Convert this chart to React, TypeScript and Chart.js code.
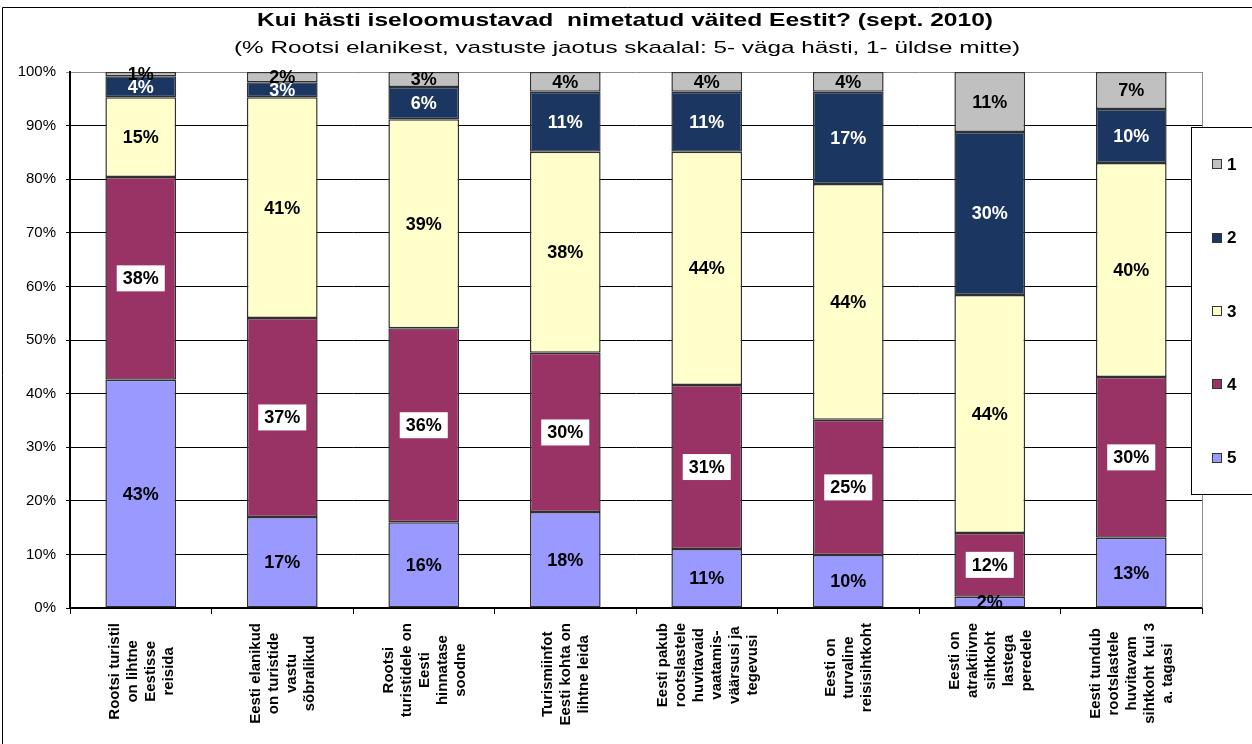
import React, { useEffect, useRef } from 'react';
import { Chart, registerables } from 'chart.js';

Chart.register(...registerables);

const FONT = '"Liberation Sans", Arial, Helvetica, sans-serif';

const titleText = 'Kui hästi iseloomustavad  nimetatud väited Eestit? (sept. 2010)';
const subtitleText = '(% Rootsi elanikest, vastuste jaotus skaalal: 5- väga hästi, 1- üldse mitte)';

const categories: string[][] = [
  ['Rootsi turistil', 'on lihtne', 'Eestisse', 'reisida'],
  ['Eesti elanikud', 'on turistide', 'vastu', 'sõbralikud'],
  ['Rootsi', 'turistidele on', 'Eesti', 'hinnatase', 'soodne'],
  ['Turismiinfot', 'Eesti kohta on', 'lihtne leida'],
  ['Eesti pakub', 'rootslastele', 'huvitavaid', 'vaatamis-', 'väärsusi ja', 'tegevusi'],
  ['Eesti on', 'turvaline', 'reisisihtkoht'],
  ['Eesti on', 'atraktiivne', 'sihtkoht', 'lastega', 'peredele'],
  ['Eesti tundub', 'rootslastele', 'huvitavam', 'sihtkoht  kui 3', 'a. tagasi'],
];

// stacked from bottom (5) to top (1)
const seriesNames = ['5', '4', '3', '2', '1'];
const values5 = [42.6, 17.0, 16.0, 17.9, 11.0, 9.9, 2.1, 13.1];
const values4 = [37.8, 37.1, 36.2, 29.7, 30.6, 25.2, 11.9, 30.0];
const values3 = [14.9, 41.2, 39.0, 37.5, 43.5, 44.0, 44.4, 39.9];
const values2 = [3.9, 2.8, 6.0, 11.2, 11.2, 17.2, 30.4, 10.1];
const values1 = [0.8, 1.9, 2.8, 3.7, 3.7, 3.7, 11.2, 6.9];
const seriesValues = [values5, values4, values3, values2, values1];

const seriesColors = ['#9999FF', '#993366', '#FFFFCC', '#1B3761', '#C0C0C0'];
const labelColors = ['#000000', '#000000', '#000000', '#FFFFFF', '#000000'];
const legendOrder = ['1', '2', '3', '4', '5'];

const yMin = 0;
const yMax = 100;
const yStep = 10;

function drawStretched(ctx: CanvasRenderingContext2D, text: string, font: string, cx: number, baseline: number, target: number) {
  ctx.save();
  ctx.font = font;
  const w = ctx.measureText(text).width;
  const sx = target / w;
  ctx.textAlign = 'center';
  ctx.textBaseline = 'alphabetic';
  ctx.fillStyle = '#000';
  ctx.translate(cx, baseline);
  ctx.scale(sx, 1);
  ctx.fillText(text, 0, 0);
  ctx.restore();
}

const decorPlugin = {
  id: 'decor',
  beforeDraw(chart: any) {
    const ctx: CanvasRenderingContext2D = chart.ctx;
    ctx.save();
    ctx.fillStyle = '#fff';
    ctx.fillRect(0, 0, chart.width, chart.height);
    ctx.strokeStyle = '#000';
    ctx.lineWidth = 1;
    ctx.beginPath();
    ctx.moveTo(2.5, chart.height);
    ctx.lineTo(2.5, 7.5);
    ctx.lineTo(chart.width, 7.5);
    ctx.stroke();
    drawStretched(ctx, titleText, `bold 19px ${FONT}`, 625, 26, 736);
    drawStretched(ctx, subtitleText, `17px ${FONT}`, 627, 53, 786);
    ctx.restore();
  },
  afterDatasetsDraw(chart: any) {
    const ctx: CanvasRenderingContext2D = chart.ctx;
    ctx.save();
    ctx.font = `bold 18px ${FONT}`;
    ctx.textAlign = 'center';
    ctx.textBaseline = 'middle';
    chart.data.datasets.forEach((ds: any, di: number) => {
      const meta = chart.getDatasetMeta(di);
      meta.data.forEach((bar: any, i: number) => {
        const v = ds.data[i] as number;
        const txt = Math.round(v) + '%';
        const x = bar.x;
        const y = (bar.y + bar.base) / 2;
        if (di === 1) {
          const w = ctx.measureText(txt).width;
          ctx.fillStyle = '#fff';
          ctx.fillRect(x - w / 2 - 6, y - 13, w + 12, 26);
        }
        ctx.fillStyle = labelColors[di];
        ctx.fillText(txt, x, y + 1);
      });
    });
    ctx.restore();
  },
  afterDraw(chart: any) {
    const ctx: CanvasRenderingContext2D = chart.ctx;
    const area = chart.chartArea;
    ctx.save();
    // plot area right border
    ctx.strokeStyle = '#8c8c8c';
    ctx.lineWidth = 1;
    ctx.beginPath();
    ctx.moveTo(Math.round(area.right) + 0.5, area.top);
    ctx.lineTo(Math.round(area.right) + 0.5, area.bottom);
    ctx.stroke();

    // category labels, rotated, centered lines
    const xScale = chart.scales.x;
    ctx.font = `bold 15px ${FONT}`;
    ctx.fillStyle = '#000';
    ctx.textAlign = 'center';
    ctx.textBaseline = 'middle';
    categories.forEach((lines, i) => {
      const x = xScale.getPixelForValue(i) + 1;
      const maxW = Math.max(...lines.map((l) => ctx.measureText(l).width));
      const cy = area.bottom + 15 + maxW / 2;
      const lh = 18;
      ctx.save();
      ctx.translate(x, cy);
      ctx.rotate(-Math.PI / 2);
      lines.forEach((l, j) => {
        ctx.fillText(l, 0, (j - (lines.length - 1) / 2) * lh);
      });
      ctx.restore();
    });

    // legend
    const bx = 1191.5;
    const by = 127.5;
    const bh = 367;
    ctx.fillStyle = '#fff';
    ctx.fillRect(bx, by, 80, bh);
    ctx.strokeStyle = '#000';
    ctx.strokeRect(bx, by, 80, bh);
    ctx.font = `bold 17px ${FONT}`;
    ctx.textAlign = 'left';
    ctx.textBaseline = 'middle';
    legendOrder.forEach((name, k) => {
      const idx = seriesNames.indexOf(name);
      const cy = by + (k + 0.5) * (bh / legendOrder.length);
      ctx.fillStyle = seriesColors[idx];
      ctx.fillRect(1212, Math.round(cy) - 5, 10, 10);
      ctx.strokeStyle = '#333';
      ctx.strokeRect(1212.5, Math.round(cy) - 4.5, 9, 9);
      ctx.fillStyle = '#000';
      ctx.fillText(name, 1227, cy + 1);
    });
    ctx.restore();
  },
};

export default function App() {
  const canvasRef = useRef<HTMLCanvasElement | null>(null);

  useEffect(() => {
    if (!canvasRef.current) return;
    const chart = new Chart(canvasRef.current, {
      type: 'bar',
      data: {
        labels: categories.map((c) => c.join(' ')),
        datasets: seriesNames.map((name, i) => ({
          label: name,
          data: seriesValues[i],
          backgroundColor: seriesColors[i],
          borderColor: '#303030',
          borderWidth: 1.5,
          borderSkipped: false,
          barPercentage: 0.5,
          categoryPercentage: 1,
        })),
      },
      options: {
        animation: false,
        responsive: false,
        devicePixelRatio: 1,
        layout: { padding: { left: 0, right: 50, top: 72, bottom: 0 } },
        plugins: {
          legend: { display: false },
          title: { display: false },
          tooltip: { enabled: false },
        },
        scales: {
          x: {
            stacked: true,
            grid: {
              display: true,
              drawOnChartArea: false,
              drawTicks: true,
              tickLength: 6,
              color: '#000',
              lineWidth: 1,
              offset: true,
            },
            border: { display: true, color: '#000', width: 2 },
            ticks: { display: false },
            afterFit: (s: any) => {
              s.height = 744 - 608;
            },
          },
          y: {
            stacked: true,
            min: yMin,
            max: yMax,
            ticks: {
              stepSize: yStep,
              callback: (v: any) => v + '%',
              color: '#000',
              font: { size: 15, family: FONT },
              padding: 10,
            },
            grid: {
              color: (c: any) => (c.tick && c.tick.value === yMax ? '#8c8c8c' : '#000'),
              lineWidth: 1,
              tickLength: 4,
              drawTicks: true,
            },
            border: { display: true, color: '#000', width: 2 },
            afterFit: (s: any) => {
              s.width = 70;
            },
          },
        },
      },
      plugins: [decorPlugin],
    } as any);
    return () => chart.destroy();
  }, []);

  return (
    <div style={{ position: 'fixed', left: 0, top: 0, width: 1252, height: 744, background: '#fff' }}>
      <canvas ref={canvasRef} width={1252} height={744} style={{ display: 'block', width: 1252, height: 744 }} />
    </div>
  );
}
